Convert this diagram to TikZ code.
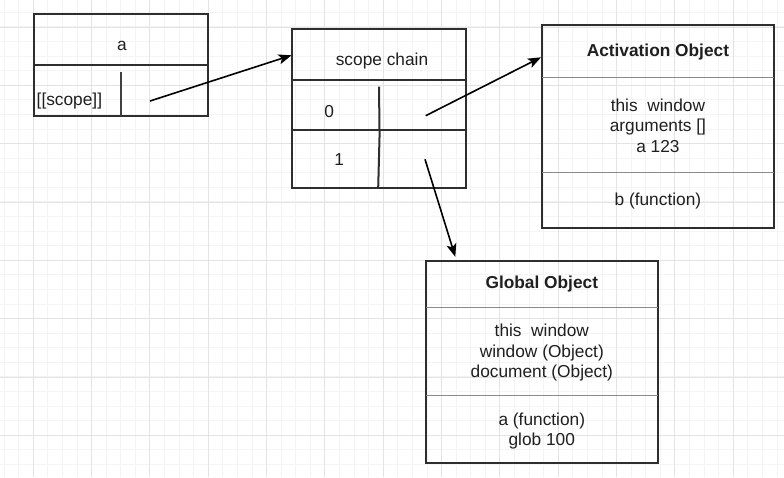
\documentclass[tikz,border=0pt]{standalone}
\usepackage{fontspec}
\setmainfont{Liberation Sans}
\usetikzlibrary{arrows.meta}
\definecolor{gridminor}{HTML}{F4F4F4}
\definecolor{gridmajor}{HTML}{E3E3E3}
\definecolor{strokec}{HTML}{2E2E2E}
\definecolor{divgray}{HTML}{8A8A8A}
\begin{document}
\begin{tikzpicture}[x=1pt,y=-1pt,
  box/.style={draw=strokec,line width=2pt,inner sep=0pt,outer sep=0pt,anchor=north west},
  darkdiv/.style={draw=strokec,line width=2pt},
  lightdiv/.style={draw=divgray,line width=1.4pt},
  lbl/.style={inner sep=0pt,anchor=base,font=\fontsize{17.3}{20.6}\selectfont,text=black!88},
  ttl/.style={lbl,font=\fontsize{17.3}{20.6}\selectfont\bfseries},
  conn/.style={draw=black,line width=1.6pt,-{Stealth[length=13pt,width=10pt,inset=3pt]}}]
\useasboundingbox (0,0) rectangle (784,477);
\fill[white] (0,0) rectangle (784,477);
% grid
\foreach \i in {0,...,54} {
  \draw[gridminor,line width=1pt] ({4.1+\i*14.583},0) -- ({4.1+\i*14.583},477);
}
\foreach \i in {0,...,33} {
  \draw[gridminor,line width=1pt] (0,{-2.2+\i*14.583}) -- (784,{-2.2+\i*14.583});
}
\foreach \i in {0,...,13} {
  \draw[gridmajor,line width=1pt] ({33.3+\i*58.333},0) -- ({33.3+\i*58.333},477);
}
\foreach \i in {0,...,8} {
  \draw[gridmajor,line width=1pt] (0,{27+\i*58.333}) -- (784,{27+\i*58.333});
}
% box a
\node[box,minimum width=174pt,minimum height=101.7pt] (boxa) at (34,14) {};
\draw[darkdiv] (34,65.3) -- (208,65.3);
\draw[darkdiv,draw=black!75] (120.7,72) -- (120.7,115.7);
\node[lbl] (ta) at (122,50) {a};
\node[lbl,anchor=base west] (tscope) at (36.5,105) {[[scope]]};
% scope chain
\node[box,minimum width=173.4pt,minimum height=158.7pt] (chain) at (292.3,29) {};
\draw[darkdiv] (292.3,79.7) -- (465.7,79.7);
\draw[darkdiv] (292.3,129.7) -- (465.7,129.7);
\draw[darkdiv] (379,86.7) -- (379.5,129.7);
\draw[darkdiv] (379.7,129.7) -- (378.2,187.7);
\node[lbl] (tchain) at (382,65) {scope chain};
\node[lbl] (tzero) at (329.3,117.7) {0};
\node[lbl] (tone) at (339.3,165.7) {1};
% activation object
\node[box,minimum width=232.3pt,minimum height=202.7pt] (act) at (541.7,25) {};
\draw[lightdiv] (541.7,77.7) -- (774,77.7);
\draw[lightdiv] (541.7,172.3) -- (774,172.3);
\node[ttl] (tact) at (657.9,56.7) {Activation Object};
\node[lbl] (act1) at (657.9,111) {this\ \ window};
\node[lbl] (act2) at (657.9,131.6) {arguments []};
\node[lbl] (act3) at (657.9,152.2) {a 123};
\node[lbl] (act4) at (657.9,205) {b (function)};
% global object
\node[box,minimum width=232.3pt,minimum height=202.3pt] (glob) at (425.7,261) {};
\draw[lightdiv] (425.7,307.3) -- (658,307.3);
\draw[lightdiv] (425.7,395.7) -- (658,395.7);
\node[ttl] (tglob) at (541.8,288.3) {Global Object};
\node[lbl] (gl1) at (541.8,336.7) {this\ \ window};
\node[lbl] (gl2) at (541.8,357.1) {window (Object)};
\node[lbl] (gl3) at (541.8,377.5) {document (Object)};
\node[lbl] (gl4) at (541.8,425) {a (function)};
\node[lbl] (gl5) at (541.8,445.6) {glob 100};
% connectors
\coordinate (s1) at (150,101);
\coordinate (e1) at (291.5,55.3);
\coordinate (s2) at (425.7,115.7);
\coordinate (e2) at (541,57.3);
\coordinate (s3) at (425,159.3);
\coordinate (e3) at (455.3,256.8);
\draw[conn] (s1) -- (e1);
\draw[conn] (s2) -- (e2);
\draw[conn] (s3) -- (e3);
\end{tikzpicture}
\end{document}
